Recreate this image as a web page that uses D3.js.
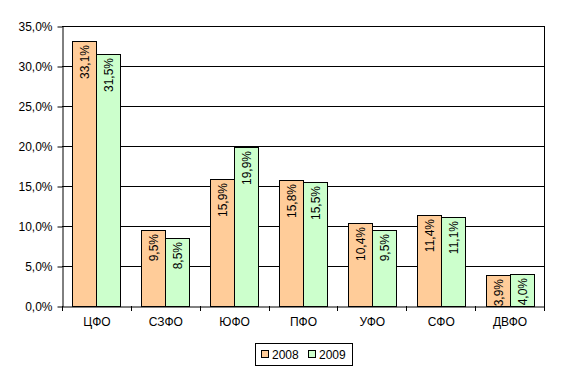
<!DOCTYPE html>
<html><head><meta charset="utf-8">
<script src="https://cdn.jsdelivr.net/npm/d3@7"></script>
<style>body{margin:0;background:#fff}svg{display:block}text{font-family:"Liberation Sans",Arial,sans-serif}</style>
</head><body>
<script>
const categories = ["ЦФО","СЗФО","ЮФО","ПФО","УФО","СФО","ДВФО"];
const series2008 = [33.1, 9.5, 15.9, 15.8, 10.4, 11.4, 3.9];
const series2009 = [31.5, 8.5, 19.9, 15.5, 9.5, 11.1, 4.0];
const seriesNames = ["2008","2009"];
const seriesColors = ["#FFCC99","#CCFFCC"];
const yTicks = [0,5,10,15,20,25,30,35];

const W=561,H=379;
const svg=d3.select("body").append("svg").attr("width",W).attr("height",H);
const m={l:62,r:544,t:26,b:306};
const x=d3.scaleBand().domain(categories).range([m.l,m.r]).paddingInner(0).paddingOuter(0);
const y=d3.scaleLinear().domain([0,35]).range([m.b,m.t]);
const fmt=v=>v.toFixed(1).replace(".",",")+"%";
const FS=12;

svg.append("g").selectAll("line").data(yTicks.filter(d=>d>0)).join("line")
  .attr("x1",m.l).attr("x2",m.r).attr("y1",d=>y(d)+0.5).attr("y2",d=>y(d)+0.5)
  .attr("stroke","#000").attr("stroke-width",1);
svg.append("line").attr("x1",m.r+0.5).attr("x2",m.r+0.5).attr("y1",m.t).attr("y2",m.b).attr("stroke","#000");

const ya=svg.append("g").attr("transform",`translate(${m.l+0.5},0.5)`)
  .call(d3.axisLeft(y).tickValues(yTicks).tickFormat(fmt).tickSize(5).tickSizeOuter(0));
ya.select(".domain").attr("stroke","#000");
ya.selectAll("text").attr("font-size",FS).attr("font-family","Liberation Sans, Arial, sans-serif").attr("fill","#000").attr("dx",-2);

const xa=svg.append("g").attr("transform",`translate(0.5,${m.b+0.5})`)
  .call(d3.axisBottom(x).tickSize(0).tickSizeOuter(0));
xa.select(".domain").attr("stroke","#000");
xa.selectAll("text").attr("font-size",FS).attr("font-family","Liberation Sans, Arial, sans-serif").attr("fill","#000").attr("dy",16);
const bounds=categories.map(c=>x(c)).concat([m.r]);
svg.append("g").selectAll("line").data(bounds).join("line")
  .attr("x1",d=>Math.round(d)+0.5).attr("x2",d=>Math.round(d)+0.5).attr("y1",m.b).attr("y2",m.b+5).attr("stroke","#000");

const bw=24;
const data=[series2008,series2009];
data.forEach((s,si)=>{
  const g=svg.append("g");
  g.selectAll("rect").data(s).join("rect")
    .attr("x",(d,i)=>Math.round(x(categories[i])+x.bandwidth()/2-bw+si*bw)+0.5)
    .attr("y",d=>Math.round(y(d))+0.5)
    .attr("width",bw).attr("height",d=>Math.round(m.b)-Math.round(y(d)))
    .attr("fill",seriesColors[si]).attr("stroke","#000").attr("stroke-width",1);
  g.selectAll("text").data(s).join("text")
    .attr("transform",(d,i)=>{
      const cx=Math.round(x(categories[i])+x.bandwidth()/2-bw+si*bw)+bw/2+5;
      return `translate(${cx},${Math.round(y(d))+4}) rotate(-90)`;})
    .attr("text-anchor","end").attr("font-size",FS).attr("fill","#000")
    .text(d=>fmt(d));
});

const lg=svg.append("g");
lg.append("rect").attr("x",255.5).attr("y",343.5).attr("width",97).attr("height",22).attr("fill","#fff").attr("stroke","#000");
seriesNames.forEach((n,i)=>{
  const ox=261+i*47;
  lg.append("rect").attr("x",ox+0.5).attr("y",350.5).attr("width",7).attr("height",7).attr("fill",seriesColors[i]).attr("stroke","#000");
  lg.append("text").attr("x",ox+11).attr("y",359).attr("font-size",FS).attr("fill","#000").text(n);
});
</script>
</body></html>
